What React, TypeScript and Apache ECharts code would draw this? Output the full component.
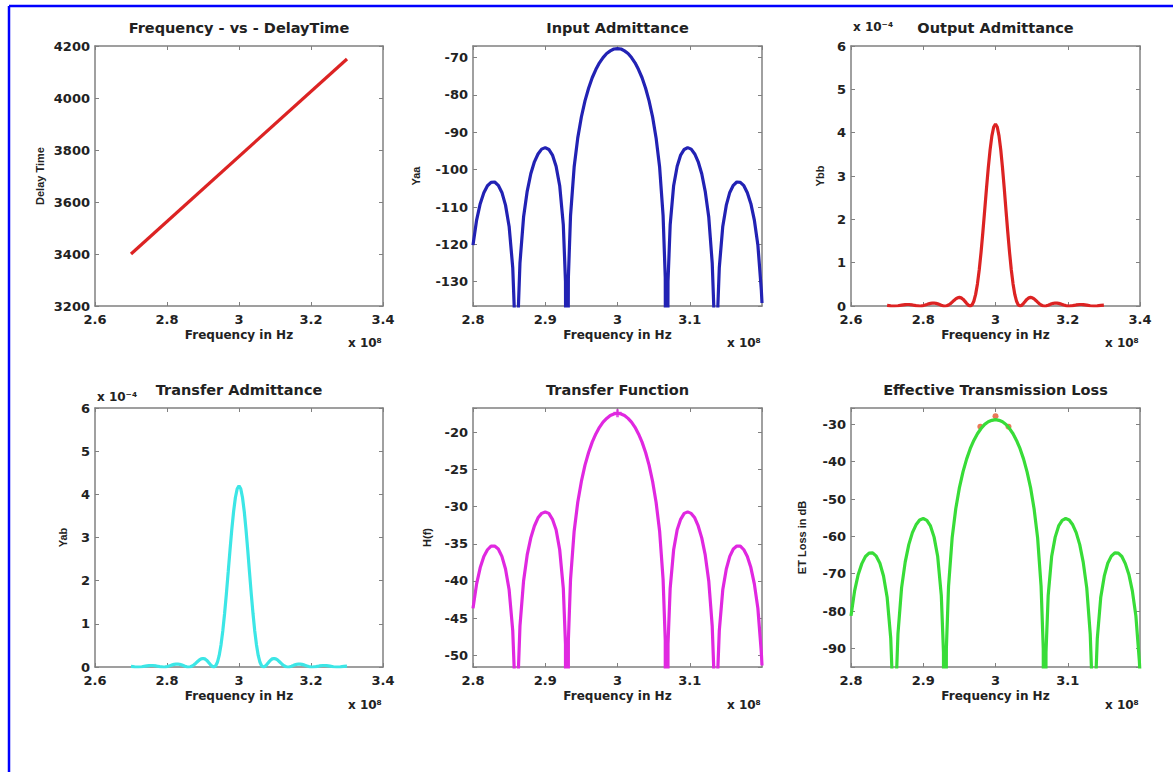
import React, { useEffect, useRef } from "react";
import * as echarts from "echarts";

// ---------- data (frequency in units of 1e8 Hz) ----------
const DELAY_FREQ = [2.7, 3.3];
const DELAY_TIME = [3400, 4150];

const RESP_FREQ = [
  2.8, 2.805, 2.81, 2.815, 2.82, 2.825, 2.83, 2.835, 2.84, 2.845, 2.85, 2.855, 2.858, 2.86, 2.862,
  2.865, 2.87, 2.875, 2.88, 2.885, 2.89, 2.895, 2.9, 2.905, 2.91, 2.915, 2.92, 2.925, 2.928, 2.93, 2.932,
  2.935, 2.94, 2.945, 2.95, 2.955, 2.96, 2.965, 2.97, 2.975, 2.98, 2.985, 2.99, 2.995, 3.0,
  3.0049, 3.0097, 3.0146, 3.0194, 3.0243, 3.0291, 3.034, 3.0389, 3.0437, 3.0486, 3.0534, 3.0583, 3.0631,
  3.0661, 3.068, 3.0699, 3.0729, 3.0777, 3.0826, 3.0874, 3.0923, 3.0971, 3.102, 3.1069, 3.1117, 3.1166,
  3.1214, 3.1263, 3.1311, 3.1341, 3.136, 3.1379, 3.1409, 3.1457, 3.1506, 3.1554, 3.1603, 3.1651, 3.17,
  3.1749, 3.1797, 3.1846, 3.1894, 3.1943, 3.1991, 3.2,
];

const YAA = [
  -120.2, -113.5, -109.1, -106.2, -104.3, -103.4, -103.3, -104.2, -106.1, -109.5, -115.2, -126.2, -141.7, -250, -141.2,
  -125.0, -112.7, -105.8, -101.1, -97.9, -95.8, -94.5, -94.1, -94.6, -96.1, -99.1, -104.3, -114.8, -129.9, -250, -128.9,
  -112.3, -99.3, -91.5, -85.9, -81.6, -78.2, -75.4, -73.2, -71.4, -70.0, -68.9, -68.2, -67.7, -67.6,
  -67.7, -68.2, -68.9, -70.0, -71.4, -73.2, -75.4, -78.2, -81.6, -85.9, -91.5, -99.3, -112.3,
  -128.9, -250, -129.9, -114.8, -104.3, -99.1, -96.1, -94.6, -94.1, -94.5, -95.8, -97.9, -101.1,
  -105.8, -112.7, -125.0, -141.2, -250, -141.7, -126.2, -115.2, -109.5, -106.1, -104.2, -103.3, -103.4,
  -104.3, -106.2, -109.1, -113.5, -120.2, -132.3, -135.7,
];

const HF = [
  -43.7, -40.4, -38.2, -36.7, -35.8, -35.3, -35.3, -35.7, -36.7, -38.4, -41.2, -46.7, -54.4, -250, -54.2,
  -46.1, -40.0, -36.5, -34.2, -32.6, -31.5, -30.9, -30.7, -30.9, -31.7, -33.1, -35.8, -41.0, -48.5, -250, -48.0,
  -39.8, -33.3, -29.4, -26.6, -24.4, -22.7, -21.3, -20.2, -19.3, -18.6, -18.1, -17.7, -17.5, -17.4,
  -17.5, -17.7, -18.1, -18.6, -19.3, -20.2, -21.3, -22.7, -24.4, -26.6, -29.4, -33.3, -39.8,
  -48.0, -250, -48.5, -41.0, -35.8, -33.1, -31.7, -30.9, -30.7, -30.9, -31.5, -32.6, -34.2,
  -36.5, -40.0, -46.1, -54.2, -250, -54.4, -46.7, -41.2, -38.4, -36.7, -35.7, -35.3, -35.3,
  -35.8, -36.7, -38.2, -40.4, -43.7, -49.7, -51.4,
];

const ETL = [
  -81.3, -74.6, -70.2, -67.3, -65.4, -64.5, -64.4, -65.3, -67.2, -70.6, -76.3, -87.3, -102.8, -250, -102.3,
  -86.1, -73.8, -66.9, -62.2, -59.0, -56.9, -55.6, -55.2, -55.7, -57.2, -60.2, -65.4, -75.9, -91.0, -250, -90.0,
  -73.4, -60.4, -52.6, -47.0, -42.7, -39.3, -36.5, -34.3, -32.5, -31.1, -30.0, -29.3, -28.9, -28.7,
  -28.9, -29.3, -30.0, -31.1, -32.5, -34.3, -36.5, -39.3, -42.7, -47.0, -52.6, -60.4, -73.4,
  -90.0, -250, -91.0, -75.9, -65.4, -60.2, -57.2, -55.7, -55.2, -55.6, -56.9, -59.0, -62.2,
  -66.9, -73.8, -86.1, -102.3, -250, -102.8, -87.3, -76.3, -70.6, -67.2, -65.3, -64.4, -64.5,
  -65.4, -67.3, -70.2, -74.6, -81.3, -93.4, -96.8,
];

const ADM_FREQ = [
  2.7, 2.71, 2.72, 2.73, 2.74, 2.75, 2.755, 2.76, 2.77, 2.78, 2.79, 2.795, 2.8, 2.805, 2.81, 2.815, 2.82,
  2.825, 2.83, 2.835, 2.84, 2.845, 2.85, 2.855, 2.86, 2.865, 2.87, 2.875, 2.88, 2.885, 2.89, 2.895, 2.9,
  2.905, 2.91, 2.915, 2.92, 2.925, 2.93, 2.935, 2.94, 2.945, 2.95, 2.955, 2.96, 2.965, 2.97, 2.975, 2.98,
  2.985, 2.99, 2.995, 3.0,
  3.0049, 3.0097, 3.0146, 3.0194, 3.0243, 3.0291, 3.034, 3.0389, 3.0437, 3.0486, 3.0534, 3.0583, 3.0631,
  3.068, 3.0729, 3.0777, 3.0826, 3.0874, 3.0923, 3.0971, 3.102, 3.1069, 3.1117, 3.1166, 3.1214, 3.1263,
  3.1311, 3.136, 3.1409, 3.1457, 3.1506, 3.1554, 3.1603, 3.1651, 3.17, 3.1749, 3.1797, 3.1846, 3.1894,
  3.1943, 3.1991, 3.204, 3.2137, 3.2234, 3.2331, 3.238, 3.2429, 3.2526, 3.2623, 3.272, 3.2817, 3.2914, 3.3,
];

// in units of 1e-4
const YBB = [
  0.0142, 0.0047, 0, 0.0054, 0.0189, 0.0317, 0.0347, 0.0344, 0.0241, 0.0081, 0, 0.0025, 0.0098, 0.0213, 0.0353,
  0.0495, 0.0612, 0.0681, 0.0686, 0.0622, 0.0498, 0.0337, 0.0174, 0.0049, 0, 0.0057, 0.0232, 0.0519, 0.0885,
  0.128, 0.1638, 0.1891, 0.1982, 0.1876, 0.1574, 0.1122, 0.0613, 0.0184, 0, 0.0244, 0.109, 0.268, 0.51, 0.836,
  1.239, 1.702, 2.202, 2.708, 3.186, 3.603, 3.926, 4.13, 4.2,
  4.13, 3.926, 3.603, 3.186, 2.708, 2.202, 1.702, 1.239, 0.836, 0.51, 0.268, 0.109, 0.0244,
  0, 0.0184, 0.0613, 0.1122, 0.1574, 0.1876, 0.1982, 0.1891, 0.1638, 0.128, 0.0885, 0.0519, 0.0232,
  0.0057, 0, 0.0049, 0.0174, 0.0337, 0.0498, 0.0622, 0.0686, 0.0681, 0.0612, 0.0495, 0.0353, 0.0213,
  0.0098, 0.0025, 0, 0.0081, 0.0241, 0.0344, 0.0347, 0.0317, 0.0189, 0.0054, 0, 0.0047, 0.0142, 0.0202,
];

const YAB = [
  0.0142, 0.0047, 0, 0.0054, 0.0189, 0.0317, 0.0347, 0.0344, 0.0241, 0.0081, 0, 0.0025, 0.0098, 0.0213, 0.0353,
  0.0495, 0.0612, 0.0681, 0.0686, 0.0622, 0.0498, 0.0337, 0.0174, 0.0049, 0, 0.0057, 0.0232, 0.0519, 0.0885,
  0.128, 0.1638, 0.1891, 0.1982, 0.1876, 0.1574, 0.1122, 0.0613, 0.0184, 0, 0.0244, 0.109, 0.268, 0.51, 0.836,
  1.239, 1.702, 2.202, 2.708, 3.186, 3.603, 3.926, 4.13, 4.2,
  4.13, 3.926, 3.603, 3.186, 2.708, 2.202, 1.702, 1.239, 0.836, 0.51, 0.268, 0.109, 0.0244,
  0, 0.0184, 0.0613, 0.1122, 0.1574, 0.1876, 0.1982, 0.1891, 0.1638, 0.128, 0.0885, 0.0519, 0.0232,
  0.0057, 0, 0.0049, 0.0174, 0.0337, 0.0498, 0.0622, 0.0686, 0.0681, 0.0612, 0.0495, 0.0353, 0.0213,
  0.0098, 0.0025, 0, 0.0081, 0.0241, 0.0344, 0.0347, 0.0317, 0.0189, 0.0054, 0, 0.0047, 0.0142, 0.0202,
];

const HF_MARK_X = [3.0];
const HF_MARK_Y = [-17.4];
const ET_MARK_X = [2.979, 3.0, 3.018];
const ET_MARK_Y = [-30.6, -27.8, -30.6];

const TITLES = [
  "Frequency - vs - DelayTime",
  "Input Admittance",
  "Output Admittance",
  "Transfer Admittance",
  "Transfer Function",
  "Effective Transmission Loss",
];
const Y_NAMES = ["Delay Time", "Yaa", "Ybb", "Yab", "H(f)", "ET Loss in dB"];
const X_NAME = "Frequency in Hz";
const X_EXP = "x 10\u2078";
const Y_EXP = "x 10\u207B\u2074";

// ---------- layout ----------
const FONT = "'DejaVu Sans', Verdana, sans-serif";
const GRIDS = [
  { left: 95, top: 46, width: 288, height: 260 },
  { left: 473, top: 46, width: 289, height: 260 },
  { left: 851, top: 46, width: 289, height: 260 },
  { left: 95, top: 408, width: 288, height: 259 },
  { left: 473, top: 408, width: 289, height: 259 },
  { left: 851, top: 408, width: 289, height: 259 },
];

type Panel = {
  xMin: number; xMax: number; xStep: number; hideLastX: boolean;
  yMin: number; yMax: number; yStep: number; fixedInterval: boolean; yGap: number;
};

const PANELS: Panel[] = [
  { xMin: 2.6, xMax: 3.4, xStep: 0.2, hideLastX: false, yMin: 3200, yMax: 4200, yStep: 200, fixedInterval: true, yGap: 50 },
  { xMin: 2.8, xMax: 3.2, xStep: 0.1, hideLastX: true, yMin: -136.5, yMax: -66.9, yStep: 10, fixedInterval: false, yGap: 52 },
  { xMin: 2.6, xMax: 3.4, xStep: 0.2, hideLastX: false, yMin: 0, yMax: 6, yStep: 1, fixedInterval: true, yGap: 26 },
  { xMin: 2.6, xMax: 3.4, xStep: 0.2, hideLastX: false, yMin: 0, yMax: 6, yStep: 1, fixedInterval: true, yGap: 27 },
  { xMin: 2.8, xMax: 3.2, xStep: 0.1, hideLastX: true, yMin: -51.6, yMax: -16.7, yStep: 5, fixedInterval: false, yGap: 41 },
  { xMin: 2.8, xMax: 3.2, xStep: 0.1, hideLastX: true, yMin: -95, yMax: -25.6, yStep: 10, fixedInterval: false, yGap: 44 },
];

const BOX = { color: "#808080", width: 1.5 };
const TICK = { show: true, inside: true, length: 4, lineStyle: { color: "#808080", width: 1 } };
const TEXT_COLOR = "#222";

function zip(xs: number[], ys: number[]) {
  return xs.map((x, i) => [x, ys[i]]);
}

function isMultiple(v: number, step: number) {
  const r = v / step;
  return Math.abs(r - Math.round(r)) < 1e-6;
}

function buildOption() {
  const xAxes: any[] = [];
  const yAxes: any[] = [];
  PANELS.forEach((p, i) => {
    xAxes.push({
      type: "value",
      gridIndex: i,
      min: p.xMin,
      max: p.xMax,
      interval: p.xStep,
      splitLine: { show: false },
      axisLine: { show: true, onZero: false, lineStyle: BOX },
      axisTick: TICK,
      position: "bottom",
      name: X_NAME,
      nameLocation: "middle",
      nameGap: 23,
      nameTextStyle: { fontFamily: FONT, fontWeight: "bold", fontSize: 12, color: TEXT_COLOR },
      axisLabel: {
        show: true,
        margin: 7,
        fontFamily: FONT,
        fontWeight: "bold",
        fontSize: 13,
        color: TEXT_COLOR,
        showMinLabel: true,
        showMaxLabel: !p.hideLastX,
        formatter: (v: number) => {
          if (p.hideLastX && v > p.xMax - 1e-6) return "";
          return String(Math.round(v * 10) / 10);
        },
      },
    });
    const yAxis: any = {
      type: "value",
      gridIndex: i,
      min: p.yMin,
      max: p.yMax,
      splitLine: { show: false },
      axisLine: { show: true, onZero: false, lineStyle: BOX },
      axisTick: TICK,
      position: "left",
      name: Y_NAMES[i],
      nameLocation: "middle",
      nameGap: p.yGap,
      nameTextStyle: { fontFamily: "'Liberation Sans', Arial, sans-serif", fontWeight: "bold", fontSize: 11, color: TEXT_COLOR },
      axisLabel: {
        show: true,
        margin: 5,
        fontFamily: FONT,
        fontWeight: "bold",
        fontSize: 13,
        color: TEXT_COLOR,
        formatter: (v: number) => (isMultiple(v, p.yStep) ? String(Math.round(v)) : ""),
      },
    };
    if (p.fixedInterval) yAxis.interval = p.yStep;
    else yAxis.splitNumber = 7;
    yAxes.push(yAxis);
  });
  // mirrored top / right axes for the boxed, inward-ticked frame
  PANELS.forEach((p, i) => {
    xAxes.push({
      type: "value", gridIndex: i, position: "top", min: p.xMin, max: p.xMax, interval: p.xStep,
      splitLine: { show: false }, axisLabel: { show: false },
      axisLine: { show: true, onZero: false, lineStyle: BOX },
      axisTick: TICK,
    });
    const yr: any = {
      type: "value", gridIndex: i, position: "right", min: p.yMin, max: p.yMax,
      splitLine: { show: false }, axisLabel: { show: false },
      axisLine: { show: true, onZero: false, lineStyle: BOX },
      axisTick: TICK,
    };
    if (p.fixedInterval) yr.interval = p.yStep;
    else yr.splitNumber = 7;
    yAxes.push(yr);
  });

  const line = (i: number, data: number[][], color: string) => ({
    type: "line",
    xAxisIndex: i,
    yAxisIndex: i,
    data,
    showSymbol: false,
    symbol: "none",
    clip: true,
    lineStyle: { color, width: 3.2 },
    itemStyle: { color },
    silent: true,
  });

  const series: any[] = [
    line(0, zip(DELAY_FREQ, DELAY_TIME), "#dc2323"),
    line(1, zip(RESP_FREQ, YAA), "#2222b4"),
    line(2, zip(ADM_FREQ, YBB), "#dc2323"),
    line(3, zip(ADM_FREQ, YAB), "#3ce6e6"),
    line(4, zip(RESP_FREQ, HF), "#e028e0"),
    line(5, zip(RESP_FREQ, ETL), "#38dc38"),
    {
      type: "scatter", xAxisIndex: 4, yAxisIndex: 4, data: zip(HF_MARK_X, HF_MARK_Y),
      symbol: "path://M2,0H4V2H6V4H4V6H2V4H0V2H2Z", symbolSize: 8,
      itemStyle: { color: "#e028e0" }, silent: true, clip: false,
    },
    {
      type: "scatter", xAxisIndex: 5, yAxisIndex: 5, data: zip(ET_MARK_X, ET_MARK_Y),
      symbol: "circle", symbolSize: 6,
      itemStyle: { color: "#e4572e" }, silent: true, clip: false,
    },
  ];

  const graphics: any[] = [];
  // blue frame (top and left edges)
  graphics.push({ type: "line", shape: { x1: 9, y1: 6, x2: 1173, y2: 6 }, style: { stroke: "#0000ff", lineWidth: 2.5 }, silent: true });
  graphics.push({ type: "line", shape: { x1: 9, y1: 6, x2: 9, y2: 772 }, style: { stroke: "#0000ff", lineWidth: 2.5 }, silent: true });
  GRIDS.forEach((g, i) => {
    const row2 = i >= 3;
    graphics.push({
      type: "text",
      x: g.left + g.width / 2,
      y: row2 ? 390 : 28,
      style: {
        text: TITLES[i], fill: TEXT_COLOR, font: `bold 14.5px ${FONT}`,
        align: "center", verticalAlign: "middle", textAlign: "center", textVerticalAlign: "middle",
      },
      silent: true,
    });
    graphics.push({
      type: "text",
      x: g.left + g.width - 35,
      y: row2 ? 705 : 343,
      style: {
        text: X_EXP, fill: TEXT_COLOR, font: `bold 12px ${FONT}`,
        align: "left", verticalAlign: "middle", textAlign: "left", textVerticalAlign: "middle",
      },
      silent: true,
    });
    if (i === 2 || i === 3) {
      graphics.push({
        type: "text",
        x: g.left + 2,
        y: row2 ? 397 : 27,
        style: {
          text: Y_EXP, fill: TEXT_COLOR, font: `bold 12px ${FONT}`,
          align: "left", verticalAlign: "middle", textAlign: "left", textVerticalAlign: "middle",
        },
        silent: true,
      });
    }
  });

  return {
    animation: false,
    backgroundColor: "#ffffff",
    grid: GRIDS.map((g) => ({ ...g, containLabel: false, outerBoundsMode: "none", show: false })),
    xAxis: xAxes,
    yAxis: yAxes,
    series,
    graphic: graphics,
    tooltip: { show: false },
  };
}

export default function App() {
  const ref = useRef<HTMLDivElement>(null);
  useEffect(() => {
    document.body.style.margin = "0";
    const chart = echarts.init(ref.current as HTMLDivElement, null, { renderer: "svg" });
    chart.setOption(buildOption());
    return () => chart.dispose();
  }, []);
  return (
    <div
      ref={ref}
      style={{ position: "absolute", left: 0, top: 0, width: 1173, height: 772, background: "#ffffff" }}
    />
  );
}
